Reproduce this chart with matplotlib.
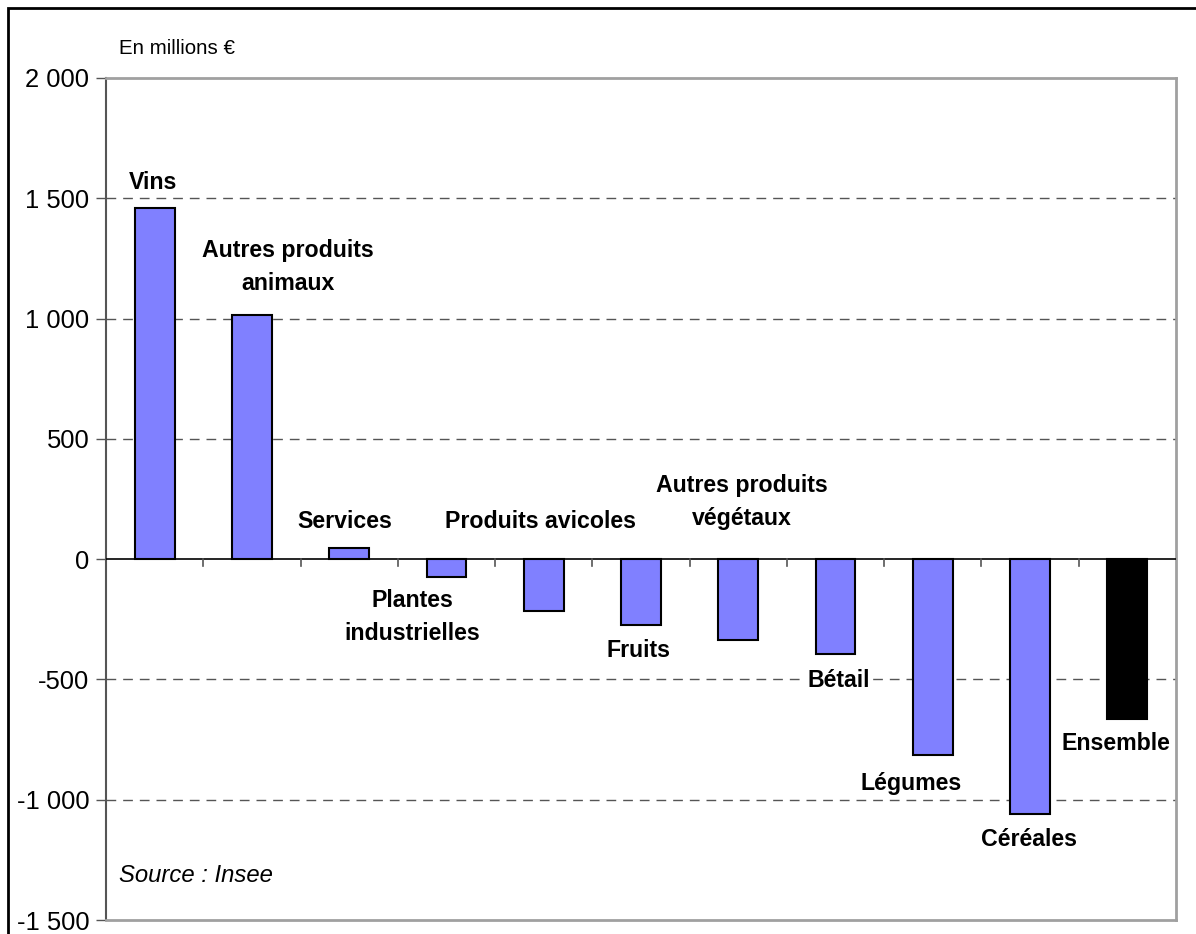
import matplotlib.pyplot as plt
from matplotlib.patches import Rectangle
from matplotlib.ticker import FuncFormatter

categories = ['Vins', 'Autres produits\nanimaux', 'Services', 'Plantes\nindustrielles',
              'Produits avicoles', 'Fruits', 'Autres produits\nvégétaux', 'Bétail',
              'Légumes', 'Céréales', 'Ensemble']
values = [1460, 1015, 45, -75, -215, -275, -335, -395, -815, -1060, -665]
colors = ['#8080ff'] * 10 + ['#000000']

# where each data label sits (x in category units, y in data units)
label_x = [-0.02, 1.37, 1.96, 2.65, 3.97, 4.97, 6.04, 7.03, 7.78, 8.99, 9.88]
label_y = [1567, 1214, 158, -241, 158, -378, 237, -503, -931, -1164, -765]

yticks = [2000, 1500, 1000, 500, 0, -500, -1000, -1500]

plt.rcParams['font.family'] = ['Liberation Sans', 'DejaVu Sans']

fig = plt.figure(figsize=(11.96, 9.34), dpi=100)
W, H = 1196, 934
ax = fig.add_axes([106 / W, 1 - 920 / H, (1176 - 106) / W, (920 - 78) / H])

x = list(range(len(categories)))
ax.bar(x, values, width=0.41, color=colors, edgecolor='black', linewidth=1.5, zorder=3)

ax.set_xlim(-0.5, len(categories) - 0.5)
ax.set_ylim(-1500, 2000)
ax.set_yticks(yticks)
ax.yaxis.set_major_formatter(FuncFormatter(lambda v, p: f'{int(v):,}'.replace(',', ' ')))
ax.tick_params(axis='y', labelsize=18.4, length=7, width=1, color='#555555', pad=5)

for v in yticks:
    if v not in (0, 2000, -1500):
        ax.axhline(v, color='#555555', linestyle=(0, (7, 5)), linewidth=1, zorder=1)

# zero line with category ticks pointing down
ax.axhline(0, color='black', linewidth=1.2, zorder=4)
for b in range(1, len(categories)):
    ax.plot([b - 0.5, b - 0.5], [0, -28], color='#555555', linewidth=1.2, zorder=4)
ax.set_xticks([])

for side in ['top', 'right', 'bottom']:
    ax.spines[side].set_color('#a0a0a0')
    ax.spines[side].set_linewidth(2)
ax.spines['left'].set_color('#555555')
ax.spines['left'].set_linewidth(1.5)

for i, name in enumerate(categories):
    ax.text(label_x[i], label_y[i], name, ha='center', va='center', fontsize=16.7,
            fontweight='bold', linespacing=1.58, zorder=6, clip_on=False,
            bbox=dict(facecolor='white', edgecolor='none', pad=1.5))

fig.text(119 / W, 1 - 48 / H, 'En millions €', fontsize=14.8, va='center', ha='left')
fig.text(119 / W, 1 - 876 / H, 'Source : Insee', fontsize=17.2, style='italic',
         va='center', ha='left')

fig.patches.append(Rectangle((8 / W, -0.1), 1.2, 1 - 8 / H + 0.1, transform=fig.transFigure,
                             fill=False, edgecolor='black', linewidth=2))

fig.savefig('out.png', dpi=100)
